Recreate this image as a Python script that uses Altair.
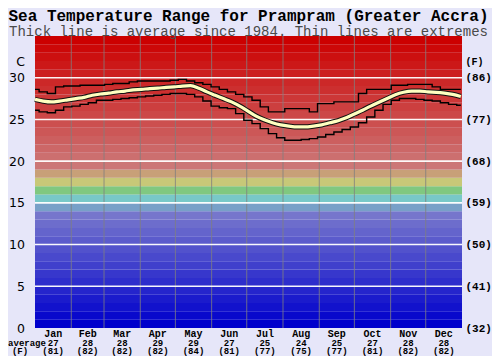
import altair as alt
import pandas as pd

# ---- data -------------------------------------------------------------
months = ["Jan", "Feb", "Mar", "Apr", "May", "Jun",
          "Jul", "Aug", "Sep", "Oct", "Nov", "Dec"]
month_avg_c = ["27", "28", "28", "29", "29", "27", "25", "24", "25", "27", "28", "28"]
month_avg_f = ["(81)", "(82)", "(82)", "(82)", "(84)", "(81)",
               "(77)", "(75)", "(77)", "(81)", "(82)", "(82)"]
month_start = [0, 31, 59, 90, 120, 151, 181, 212, 243, 273, 304, 334, 365]

# weekly samples (day of year)
week_day = list(range(0, 365, 7))
avg_c = [27.4, 27.2, 27.1, 27.2, 27.35, 27.5, 27.65, 27.9, 28.05, 28.15,
         28.3, 28.4, 28.55, 28.6, 28.7, 28.75, 28.85, 28.9, 29.0, 29.05,
         28.75, 28.3, 27.9, 27.5, 27.1, 26.6, 26.0, 25.4, 24.95, 24.6,
         24.35, 24.2, 24.1, 24.1, 24.2, 24.35, 24.6, 24.85, 25.2, 25.65,
         26.1, 26.6, 27.05, 27.5, 27.95, 28.25, 28.4, 28.4, 28.3, 28.25,
         28.15, 28.0, 27.75]
max_c = [28.6, 28.3, 28.1, 28.9, 29.0, 29.0, 29.1, 29.1, 29.1, 29.2,
         29.3, 29.3, 29.5, 29.6, 29.6, 29.6, 29.6, 29.7, 29.8, 29.6,
         29.4, 29.2, 28.9, 28.6, 28.3, 28.0, 27.7, 27.3, 26.5, 25.9,
         25.9, 26.3, 26.3, 26.3, 25.9, 26.9, 26.9, 27.1, 27.1, 27.1,
         28.1, 28.6, 28.6, 28.6, 29.1, 29.1, 29.2, 29.2, 29.2, 28.9,
         28.6, 28.6, 28.6]
min_c = [26.1, 25.9, 25.8, 26.1, 26.5, 26.6, 26.8, 27.0, 27.3, 27.3,
         27.4, 27.5, 27.6, 27.7, 27.8, 27.9, 28.0, 28.1, 28.1, 28.0,
         27.7, 27.2, 26.6, 26.4, 26.3, 25.7, 24.9, 24.5, 23.9, 23.3,
         22.8, 22.5, 22.5, 22.6, 22.7, 22.9, 23.2, 23.5, 23.8, 24.1,
         24.6, 25.3, 26.1, 26.8, 27.3, 27.5, 27.5, 27.4, 27.3, 27.2,
         27.0, 26.8, 26.7]

band_lo = list(range(0, 35))
band_colors = [
    "#0000cc", "#0909cc", "#1212cc", "#1b1bcc", "#2525cc", "#2e2ecc",
    "#3737cc", "#4040cc", "#4949cc", "#5252cc", "#5b5bcc", "#6464cc",
    "#6d6dcc", "#7676cc", "#78a0c8", "#78c8c8", "#80c880", "#c8c878",
    "#c8a078", "#cc7777", "#cc6f6f", "#cc6767", "#cc5f5f", "#cc5757",
    "#cc4f4f", "#cc4747", "#cc3f3f", "#cc3737", "#cc2f2f", "#cc2828",
    "#cc2020", "#cc1818", "#cc1010", "#cc0808", "#cc0000",
]
c_ticks = [0, 5, 10, 15, 20, 25, 30]
grid_c = [5, 10, 15, 20, 25, 30]

# ---- frames -----------------------------------------------------------
series = pd.DataFrame({"day": week_day, "avg": avg_c, "max": max_c, "min": min_c})
bands = pd.DataFrame({"lo": band_lo, "hi": [b + 1 for b in band_lo],
                      "color": band_colors, "x0": 0, "x1": 365})
hgrid = pd.DataFrame({"t": grid_c})
vgrid = pd.DataFrame({"d": month_start[1:-1]})
month_mid = [(month_start[i] + month_start[i + 1]) / 2 for i in range(12)]
mlabels = pd.DataFrame({"mid": month_mid, "name": months, "c": month_avg_c, "f": month_avg_f})
note = pd.DataFrame({"a": ["average"], "f": ["(F)"]})

W, H = 427, 292
FONT_M = "Liberation Mono"
xscale = alt.Scale(domain=[0, 365], nice=False, zero=False)
yscale = alt.Scale(domain=[0, 35], nice=False, zero=False)

left_axis = alt.Axis(values=c_ticks + [32], labelExpr="datum.value == 32 ? 'C' : datum.label",
                     orient="left", domain=False, ticks=False, grid=False,
                     labelFont="DejaVu Sans", labelFontSize=12.5, labelColor="black",
                     labelPadding=10.5, labelOverlap=False, title=None)
right_axis = alt.Axis(values=c_ticks + [32],
                      labelExpr="datum.value == 32 ? '(F)' : '(' + round(datum.value * 9 / 5 + 32) + ')'",
                      orient="right", domain=False, ticks=False, grid=False,
                      labelFont=FONT_M, labelFontWeight="bold",
                      labelFontSize={"condition": {"test": "datum.value == 32", "value": 10}, "value": 11},
                      labelColor="black", labelPadding=3, labelOverlap=False, title=None)

band_layer = alt.Chart(bands).mark_rect(strokeWidth=0).encode(
    x=alt.X("x0:Q", scale=xscale, axis=None),
    x2="x1:Q",
    y=alt.Y("lo:Q", scale=yscale, axis=left_axis),
    y2="hi:Q",
    color=alt.Color("color:N", scale=None),
)

vgrid_layer = alt.Chart(vgrid).mark_rule(color="#808080", opacity=0.8, strokeWidth=1).encode(
    x=alt.X("d:Q", scale=xscale, axis=None),
)

hgrid_layer = alt.Chart(hgrid).mark_rule(color="white", strokeWidth=1.6, opacity=0.95).encode(
    y=alt.Y("t:Q", scale=yscale, axis=right_axis),
)

max_layer = alt.Chart(series).mark_line(color="black", strokeWidth=1.4, interpolate="step").encode(
    x=alt.X("day:Q", scale=xscale, axis=None),
    y=alt.Y("max:Q", scale=yscale, axis=None),
)
min_layer = alt.Chart(series).mark_line(color="black", strokeWidth=1.4, interpolate="step").encode(
    x=alt.X("day:Q", scale=xscale, axis=None),
    y=alt.Y("min:Q", scale=yscale, axis=None),
)
avg_outline = alt.Chart(series).mark_line(color="#111111", strokeWidth=5.2, interpolate="monotone").encode(
    x=alt.X("day:Q", scale=xscale, axis=None),
    y=alt.Y("avg:Q", scale=yscale, axis=None),
)
avg_line = alt.Chart(series).mark_line(color="#ffffc0", strokeWidth=3.2, interpolate="monotone").encode(
    x=alt.X("day:Q", scale=xscale, axis=None),
    y=alt.Y("avg:Q", scale=yscale, axis=None),
)

txt = dict(font=FONT_M, fontWeight="bold", align="center", baseline="middle", color="black")
name_layer = alt.Chart(mlabels).mark_text(fontSize=10, **txt).encode(
    x=alt.X("mid:Q", scale=xscale, axis=None), y=alt.value(H + 5.5), text="name:N")
c_layer = alt.Chart(mlabels).mark_text(fontSize=9, **txt).encode(
    x=alt.X("mid:Q", scale=xscale, axis=None), y=alt.value(H + 14.5), text="c:N")
f_layer = alt.Chart(mlabels).mark_text(fontSize=9, **txt).encode(
    x=alt.X("mid:Q", scale=xscale, axis=None), y=alt.value(H + 23), text="f:N")

avg_note = alt.Chart(note).mark_text(fontSize=9, **txt).encode(
    x=alt.value(-8), y=alt.value(H + 14.5), text="a:N")
f_note = alt.Chart(note).mark_text(fontSize=9, **txt).encode(
    x=alt.value(-15), y=alt.value(H + 23), text="f:N")

chart = alt.layer(
    band_layer, vgrid_layer, hgrid_layer, max_layer, min_layer, avg_outline, avg_line,
    name_layer, c_layer, f_layer, avg_note, f_note,
).resolve_scale(y="independent").properties(
    width=W, height=H,
    autosize=alt.AutoSizeParams(type="none"),
    padding={"left": 27, "top": 28, "right": 30, "bottom": 28},
    background="#e6e6f9",
    title=alt.TitleParams(
        text="Sea Temperature Range for Prampram (Greater Accra)",
        subtitle="Thick line is average since 1984. Thin lines are extremes",
        font=FONT_M, fontSize=16, fontWeight="bold", color="black",
        subtitleFont=FONT_M, subtitleFontSize=14, subtitleColor="#4a4a4a",
        subtitlePadding=1, anchor="middle", frame="group", offset=-3,
    ),
).configure_view(strokeWidth=0)

chart.save("out.html", embed_options={"renderer": "svg", "actions": False})
